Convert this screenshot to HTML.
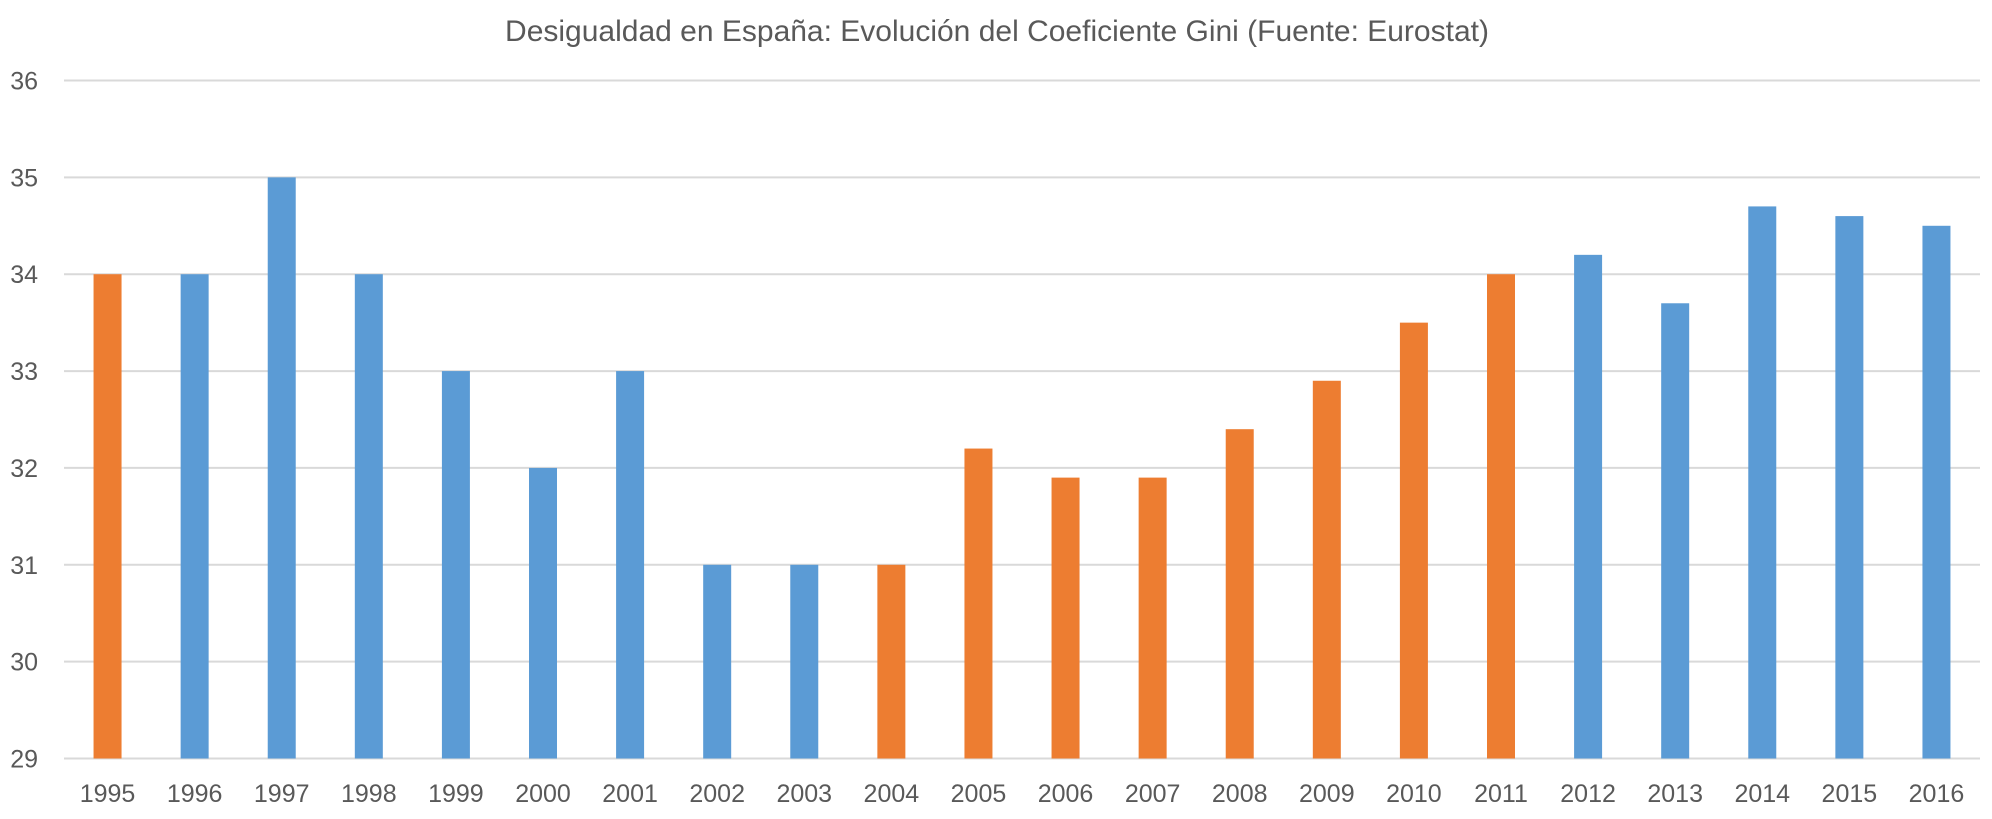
<!DOCTYPE html>
<html><head><meta charset="utf-8"><style>
body{margin:0;background:#fff;}
svg{display:block;font-family:"Liberation Sans",sans-serif;}
</style></head><body>
<svg id="chart" width="1992" height="819">
<text x="997" y="41" text-anchor="middle" font-size="30" fill="#595959">Desigualdad en España: Evolución del Coeficiente Gini (Fuente: Eurostat)</text>
<g id="grid"></g><g id="bars"></g><g id="xl"></g>
</svg>
<script>
const years=["1995","1996","1997","1998","1999","2000","2001","2002","2003","2004","2005","2006","2007","2008","2009","2010","2011","2012","2013","2014","2015","2016"];
const gini=[34,34,35,34,33,32,33,31,31,31,32.2,31.9,31.9,32.4,32.9,33.5,34,34.2,33.7,34.7,34.6,34.5];
const highlighted=[1,0,0,0,0,0,0,0,0,1,1,1,1,1,1,1,1,0,0,0,0,0];
const yTicks=[29,30,31,32,33,34,35,36];
const L=64,R=1980,T=80.5,B=758.5,ymin=29,ymax=36;
const y=v=>B-(v-ymin)/(ymax-ymin)*(B-T);
const bw=(R-L)/years.length;
const x=i=>L+bw*(i+0.5);
const ns="http://www.w3.org/2000/svg";
const g=document.getElementById('grid'),b=document.getElementById('bars'),xl=document.getElementById('xl');
yTicks.forEach(t=>{
 const l=document.createElementNS(ns,'line');
 l.setAttribute('x1',L);l.setAttribute('x2',R);l.setAttribute('y1',y(t));l.setAttribute('y2',y(t));
 l.setAttribute('stroke','#d9d9d9');l.setAttribute('stroke-width','2');
 
 
 g.appendChild(l);
 const tx=document.createElementNS(ns,'text');
 tx.setAttribute('x',38);tx.setAttribute('y',y(t)+9);tx.setAttribute('text-anchor','end');
 tx.setAttribute('font-size','25');tx.setAttribute('fill','#595959');tx.textContent=t;
 
 
 g.appendChild(tx);
});
years.forEach((yr,i)=>{
 const r=document.createElementNS(ns,'rect');
 r.setAttribute('x',x(i)-14);r.setAttribute('width',28);
 r.setAttribute('y',y(gini[i]));r.setAttribute('height',B-y(gini[i]));
 r.setAttribute('fill',highlighted[i]?'#ED7D31':'#5B9BD5');
 
 
 b.appendChild(r);
 const tx=document.createElementNS(ns,'text');
 tx.setAttribute('x',x(i));tx.setAttribute('y',802);tx.setAttribute('text-anchor','middle');
 tx.setAttribute('font-size','25');tx.setAttribute('fill','#595959');tx.textContent=yr;
 
 
 xl.appendChild(tx);
});
</script>
</body></html>
